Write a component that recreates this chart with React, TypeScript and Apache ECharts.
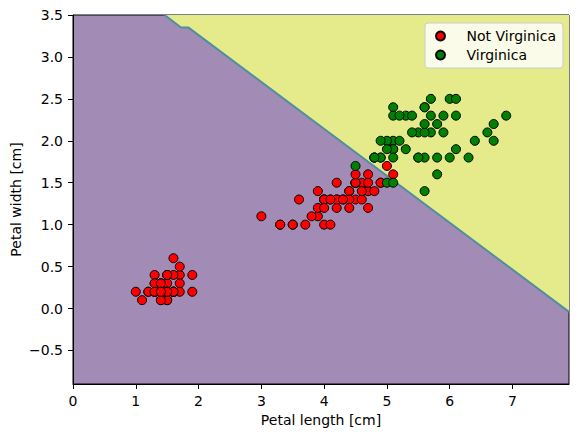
import React, { useEffect, useRef } from 'react';
import * as echarts from 'echarts';

// Iris petal measurements: setosa + versicolor (not virginica)
const notVirginicaLength = [
  1.4, 1.4, 1.3, 1.5, 1.4, 1.7, 1.4, 1.5, 1.4, 1.5, 1.5, 1.6, 1.4, 1.1, 1.2, 1.5, 1.3, 1.4, 1.7, 1.5,
  1.7, 1.5, 1.0, 1.7, 1.9, 1.6, 1.6, 1.5, 1.4, 1.6, 1.6, 1.5, 1.5, 1.4, 1.5, 1.2, 1.3, 1.4, 1.3, 1.5,
  1.3, 1.3, 1.3, 1.6, 1.9, 1.4, 1.6, 1.4, 1.5, 1.4,
  4.7, 4.5, 4.9, 4.0, 4.6, 4.5, 4.7, 3.3, 4.6, 3.9, 3.5, 4.2, 4.0, 4.7, 3.6, 4.4, 4.5, 4.1, 4.5, 3.9,
  4.8, 4.0, 4.9, 4.7, 4.3, 4.4, 4.8, 5.0, 4.5, 3.5, 3.8, 3.7, 3.9, 5.1, 4.5, 4.5, 4.7, 4.4, 4.1, 4.0,
  4.4, 4.6, 4.0, 3.3, 4.2, 4.2, 4.2, 4.3, 3.0, 4.1,
];
const notVirginicaWidth = [
  0.2, 0.2, 0.2, 0.2, 0.2, 0.4, 0.3, 0.2, 0.2, 0.1, 0.2, 0.2, 0.1, 0.1, 0.2, 0.4, 0.4, 0.3, 0.3, 0.3,
  0.2, 0.4, 0.2, 0.5, 0.2, 0.2, 0.4, 0.2, 0.2, 0.2, 0.2, 0.4, 0.1, 0.2, 0.2, 0.2, 0.2, 0.1, 0.2, 0.2,
  0.3, 0.3, 0.2, 0.6, 0.4, 0.3, 0.2, 0.2, 0.2, 0.2,
  1.4, 1.5, 1.5, 1.3, 1.5, 1.3, 1.6, 1.0, 1.3, 1.4, 1.0, 1.5, 1.0, 1.4, 1.3, 1.4, 1.5, 1.0, 1.5, 1.1,
  1.8, 1.3, 1.5, 1.2, 1.3, 1.4, 1.4, 1.7, 1.5, 1.0, 1.1, 1.0, 1.2, 1.6, 1.5, 1.6, 1.5, 1.3, 1.3, 1.3,
  1.2, 1.4, 1.2, 1.0, 1.3, 1.2, 1.3, 1.3, 1.1, 1.3,
];
const virginicaLength = [
  6.0, 5.1, 5.9, 5.6, 5.8, 6.6, 4.5, 6.3, 5.8, 6.1, 5.1, 5.3, 5.5, 5.0, 5.1, 5.3, 5.5, 6.7, 6.9, 5.0,
  5.7, 4.9, 6.7, 4.9, 5.7, 6.0, 4.8, 4.9, 5.6, 5.8, 6.1, 6.4, 5.6, 5.1, 5.6, 6.1, 5.6, 5.5, 4.8, 5.4,
  5.6, 5.1, 5.1, 5.9, 5.7, 5.2, 5.0, 5.2, 5.4, 5.1,
];
const virginicaWidth = [
  2.5, 1.9, 2.1, 1.8, 2.2, 2.1, 1.7, 1.8, 1.8, 2.5, 2.0, 1.9, 2.1, 2.0, 2.4, 2.3, 1.8, 2.2, 2.3, 1.5,
  2.3, 2.0, 2.0, 1.8, 2.1, 1.8, 1.8, 1.8, 2.1, 1.6, 1.9, 2.0, 2.2, 1.5, 1.4, 2.3, 2.4, 1.8, 1.8, 2.1,
  2.4, 2.3, 1.9, 2.3, 2.5, 2.3, 1.9, 2.0, 2.3, 1.8,
];

// decision boundary
const boundaryLength = [1.46, 1.72, 1.84, 7.9];
const boundaryWidth = [3.5, 3.35, 3.35, -0.04];

const xTicks = [0, 1, 2, 3, 4, 5, 6, 7];
const yTicks = [-0.5, 0, 0.5, 1, 1.5, 2, 2.5, 3, 3.5];

const zip = (a: number[], b: number[]) => a.map((v, i) => [v, b[i]]);

const FONT = 'DejaVu Sans';

const App: React.FC = () => {
  const chartRef = useRef<HTMLDivElement>(null);

  useEffect(() => {
    if (!chartRef.current) return;
    document.body.style.margin = '0';

    const chart = echarts.init(chartRef.current, null, { renderer: 'svg' });

    const option: any = {
      animation: false,
      backgroundColor: '#ffffff',
      textStyle: { fontFamily: FONT },
      grid: {
        left: 73,
        top: 15,
        right: 9,
        bottom: 54,
        containLabel: false,
        outerBoundsMode: 'none',
        show: true,
        backgroundColor: '#a28cb5',
        borderColor: '#000000',
        borderWidth: 1,
      },
      legend: {
        orient: 'vertical',
        left: 425,
        top: 23,
        padding: [6, 7, 6, 10],
        itemGap: 5,
        itemWidth: 18,
        itemHeight: 9,
        backgroundColor: 'rgba(255,255,255,0.8)',
        borderColor: '#cccccc',
        borderWidth: 1,
        borderRadius: 3,
        icon: 'circle',
        textStyle: { fontFamily: FONT, fontSize: 14, color: '#000', padding: [0, 0, 0, 12] },
        data: ['Not Virginica', 'Virginica'],
      },
      xAxis: {
        type: 'value',
        min: 0,
        max: 7.9,
        name: 'Petal length [cm]',
        nameLocation: 'middle',
        nameGap: 29,
        nameMoveOverlap: false,
        nameTextStyle: { fontFamily: FONT, fontSize: 14, color: '#000' },
        axisLine: { show: true, onZero: false, lineStyle: { color: '#000', width: 1 } },
        axisTick: { show: true, length: 5, lineStyle: { color: '#000' }, customValues: xTicks },
        axisLabel: {
          color: '#000',
          fontFamily: FONT,
          fontSize: 14,
          margin: 10,
          customValues: xTicks,
          formatter: (v: number) => String(v),
        },
        splitLine: { show: false },
      },
      yAxis: {
        type: 'value',
        min: -0.9,
        max: 3.5,
        name: 'Petal width [cm]',
        nameLocation: 'middle',
        nameGap: 50,
        nameMoveOverlap: false,
        nameTextStyle: { fontFamily: FONT, fontSize: 14, color: '#000' },
        axisLine: { show: true, onZero: false, lineStyle: { color: '#000', width: 1 } },
        axisTick: { show: true, length: 5, lineStyle: { color: '#000' }, customValues: yTicks },
        axisLabel: {
          color: '#000',
          fontFamily: FONT,
          fontSize: 14,
          margin: 10,
          customValues: yTicks,
          formatter: (v: number) => (v < 0 ? '\u2212' + Math.abs(v).toFixed(1) : v.toFixed(1)),
        },
        splitLine: { show: false },
      },
      series: [
        {
          name: 'boundary',
          type: 'line',
          data: zip(boundaryLength, boundaryWidth),
          symbol: 'none',
          silent: true,
          lineStyle: { color: '#4f8f9e', width: 2 },
          areaStyle: { color: '#e5eb8b', opacity: 1, origin: 'end' },
          z: 1,
        },
        {
          name: 'Not Virginica',
          type: 'scatter',
          data: zip(notVirginicaLength, notVirginicaWidth),
          symbolSize: 9,
          itemStyle: { color: '#ff0000', borderColor: '#000000', borderWidth: 1, opacity: 1 },
          z: 3,
        },
        {
          name: 'Virginica',
          type: 'scatter',
          data: zip(virginicaLength, virginicaWidth),
          symbolSize: 9,
          itemStyle: { color: '#008000', borderColor: '#000000', borderWidth: 1, opacity: 1 },
          z: 3,
        },
      ],
    };

    chart.setOption(option);

    return () => {
      chart.dispose();
    };
  }, []);

  return <div ref={chartRef} style={{ width: 578, height: 438 }} />;
};

export default App;
